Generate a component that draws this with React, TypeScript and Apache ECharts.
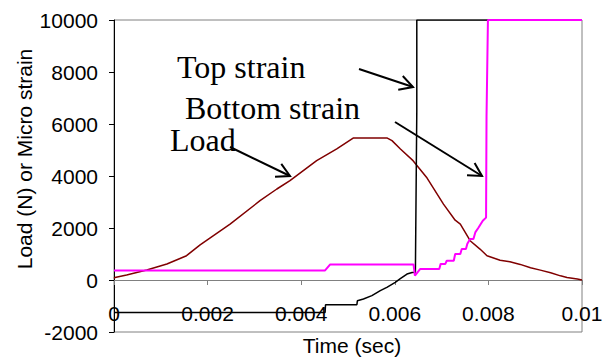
import React, { useEffect, useRef } from "react";
import * as echarts from "echarts";

// Load (N)
const loadTime = [0, 0.00002, 0.00027, 0.0007, 0.00113, 0.00155, 0.00184, 0.00248, 0.00312, 0.00348, 0.00376, 0.00433, 0.00476, 0.00511, 0.00584, 0.00594, 0.00612, 0.00639, 0.00669, 0.00704, 0.00729, 0.0074, 0.00761, 0.00782, 0.00797, 0.00825, 0.00846, 0.00868, 0.0089, 0.00911, 0.00933, 0.00954, 0.00968, 0.0099, 0.01];
const loadValue = [60, 100, 190, 385, 615, 935, 1350, 2150, 3050, 3500, 3820, 4590, 5040, 5460, 5460, 5360, 5040, 4590, 3920, 2920, 2300, 2150, 1510, 1190, 935, 760, 700, 600, 470, 380, 280, 160, 100, 40, 0];

// Top strain (micro strain)
const topTime = [0, 0.00451, 0.00452, 0.00519, 0.0052, 0.00533, 0.00551, 0.00569, 0.00583, 0.00601, 0.00611, 0.00626, 0.00637, 0.00644, 0.00647, 0.00647, 0.01];
const topValue = [-1250, -1250, -950, -950, -800, -730, -600, -410, -285, -90, 40, 230, 290, 300, 6500, 10000, 10000];

// Bottom strain (micro strain)
const bottomTime = [0, 0.00451, 0.00462, 0.0064, 0.00643, 0.00654, 0.00695, 0.00698, 0.00708, 0.00711, 0.00726, 0.00729, 0.0074, 0.00743, 0.00752, 0.00755, 0.00761, 0.00768, 0.00772, 0.00779, 0.00788, 0.00795, 0.00796, 0.00799, 0.01];
const bottomValue = [370, 370, 600, 600, 170, 420, 420, 620, 620, 740, 740, 1000, 1000, 1190, 1190, 1390, 1580, 1580, 1830, 2020, 2280, 2400, 6300, 10000, 10000];

const xTicks = { min: 0, max: 0.01, interval: 0.002 };
const yTicks = { min: -2000, max: 10000, interval: 2000 };

const zip = (a: number[], b: number[]) => a.map((t, i) => [t, b[i]]);

function arrow(x1: number, y1: number, x2: number, y2: number) {
  const ang = Math.atan2(y2 - y1, x2 - x1);
  const L = 15;
  const spread = 0.5;
  const p1 = [x2 - L * Math.cos(ang - spread), y2 - L * Math.sin(ang - spread)];
  const p2 = [x2 - L * Math.cos(ang + spread), y2 - L * Math.sin(ang + spread)];
  const st = { stroke: "#000", lineWidth: 2, fill: "none" };
  return [
    { type: "line", shape: { x1, y1, x2, y2 }, style: st, z: 100 },
    { type: "polyline", shape: { points: [p1, [x2, y2], p2] }, style: st, z: 100 },
  ];
}

const SANS = '"Liberation Sans", Arial, sans-serif';

export default function App() {
  const ref = useRef<HTMLDivElement>(null);
  useEffect(() => {
    if (!ref.current) return;
    const chart = echarts.init(ref.current, undefined, { renderer: "svg" });
    const serifText = (text: string, x: number, y: number) => ({
      type: "text",
      x,
      y,
      z: 100,
      style: {
        text,
        fill: "#000",
        font: '32px "Liberation Serif", "Times New Roman", serif',
        textAlign: "left",
        textVerticalAlign: "middle",
        verticalAlign: "middle",
      },
    });
    chart.setOption({
      animation: false,
      backgroundColor: "#fff",
      grid: {
        left: 114,
        top: 20,
        right: 26,
        bottom: 29,
        show: true,
        borderColor: "#808080",
        borderWidth: 1,
        containLabel: false,
        outerBoundsMode: "none",
      },
      xAxis: {
        type: "value",
        min: xTicks.min,
        max: xTicks.max,
        interval: xTicks.interval,
        axisLine: { onZero: true, lineStyle: { color: "#808080", width: 1 } },
        axisTick: { show: true, length: 5, lineStyle: { color: "#808080" } },
        axisLabel: {
          color: "#000",
          fontFamily: SANS,
          fontSize: 21,
          margin: -29,
          formatter: (v: number) => (v === 0 ? "0" : String(+v.toFixed(3))),
        },
        splitLine: { show: false },
      },
      yAxis: {
        type: "value",
        min: yTicks.min,
        max: yTicks.max,
        interval: yTicks.interval,
        axisLine: { show: true, onZero: false, lineStyle: { color: "#000", width: 1 } },
        axisTick: { show: true, length: 5, lineStyle: { color: "#000" } },
        axisLabel: {
          color: "#000",
          fontFamily: SANS,
          fontSize: 21,
          margin: 16,
          formatter: (v: number) => String(v),
        },
        splitLine: { show: false },
      },
      series: [
        {
          name: "Load",
          type: "line",
          data: zip(loadTime, loadValue),
          showSymbol: false,
          lineStyle: { color: "#800000", width: 1.5 },
          itemStyle: { color: "#800000" },
          z: 3,
        },
        {
          name: "Top strain",
          type: "line",
          data: zip(topTime, topValue),
          showSymbol: false,
          lineStyle: { color: "#000000", width: 1.5 },
          itemStyle: { color: "#000000" },
          z: 4,
        },
        {
          name: "Bottom strain",
          type: "line",
          data: zip(bottomTime, bottomValue),
          showSymbol: false,
          lineStyle: { color: "#FF00FF", width: 2 },
          itemStyle: { color: "#FF00FF" },
          z: 5,
        },
      ],
      graphic: [
        serifText("Top strain", 177, 67),
        serifText("Bottom strain", 185, 108),
        serifText("Load", 170, 140),
        ...arrow(230, 147, 290, 176),
        ...arrow(359, 69, 413, 87),
        ...arrow(395, 122, 482, 176),
        {
          type: "text",
          x: 24,
          y: 159,
          rotation: Math.PI / 2,
          style: {
            text: "Load (N) or Micro strain",
            fill: "#000",
            font: "21px " + SANS,
            textAlign: "center",
            textVerticalAlign: "middle",
            verticalAlign: "middle",
          },
        },
        {
          type: "text",
          x: 352,
          y: 345,
          style: {
            text: "Time (sec)",
            fill: "#000",
            font: "21px " + SANS,
            textAlign: "center",
            textVerticalAlign: "middle",
            verticalAlign: "middle",
          },
        },
      ],
    });
    return () => chart.dispose();
  }, []);
  return <div ref={ref} style={{ width: 608, height: 361, position: "absolute", left: 0, top: 0 }} />;
}
